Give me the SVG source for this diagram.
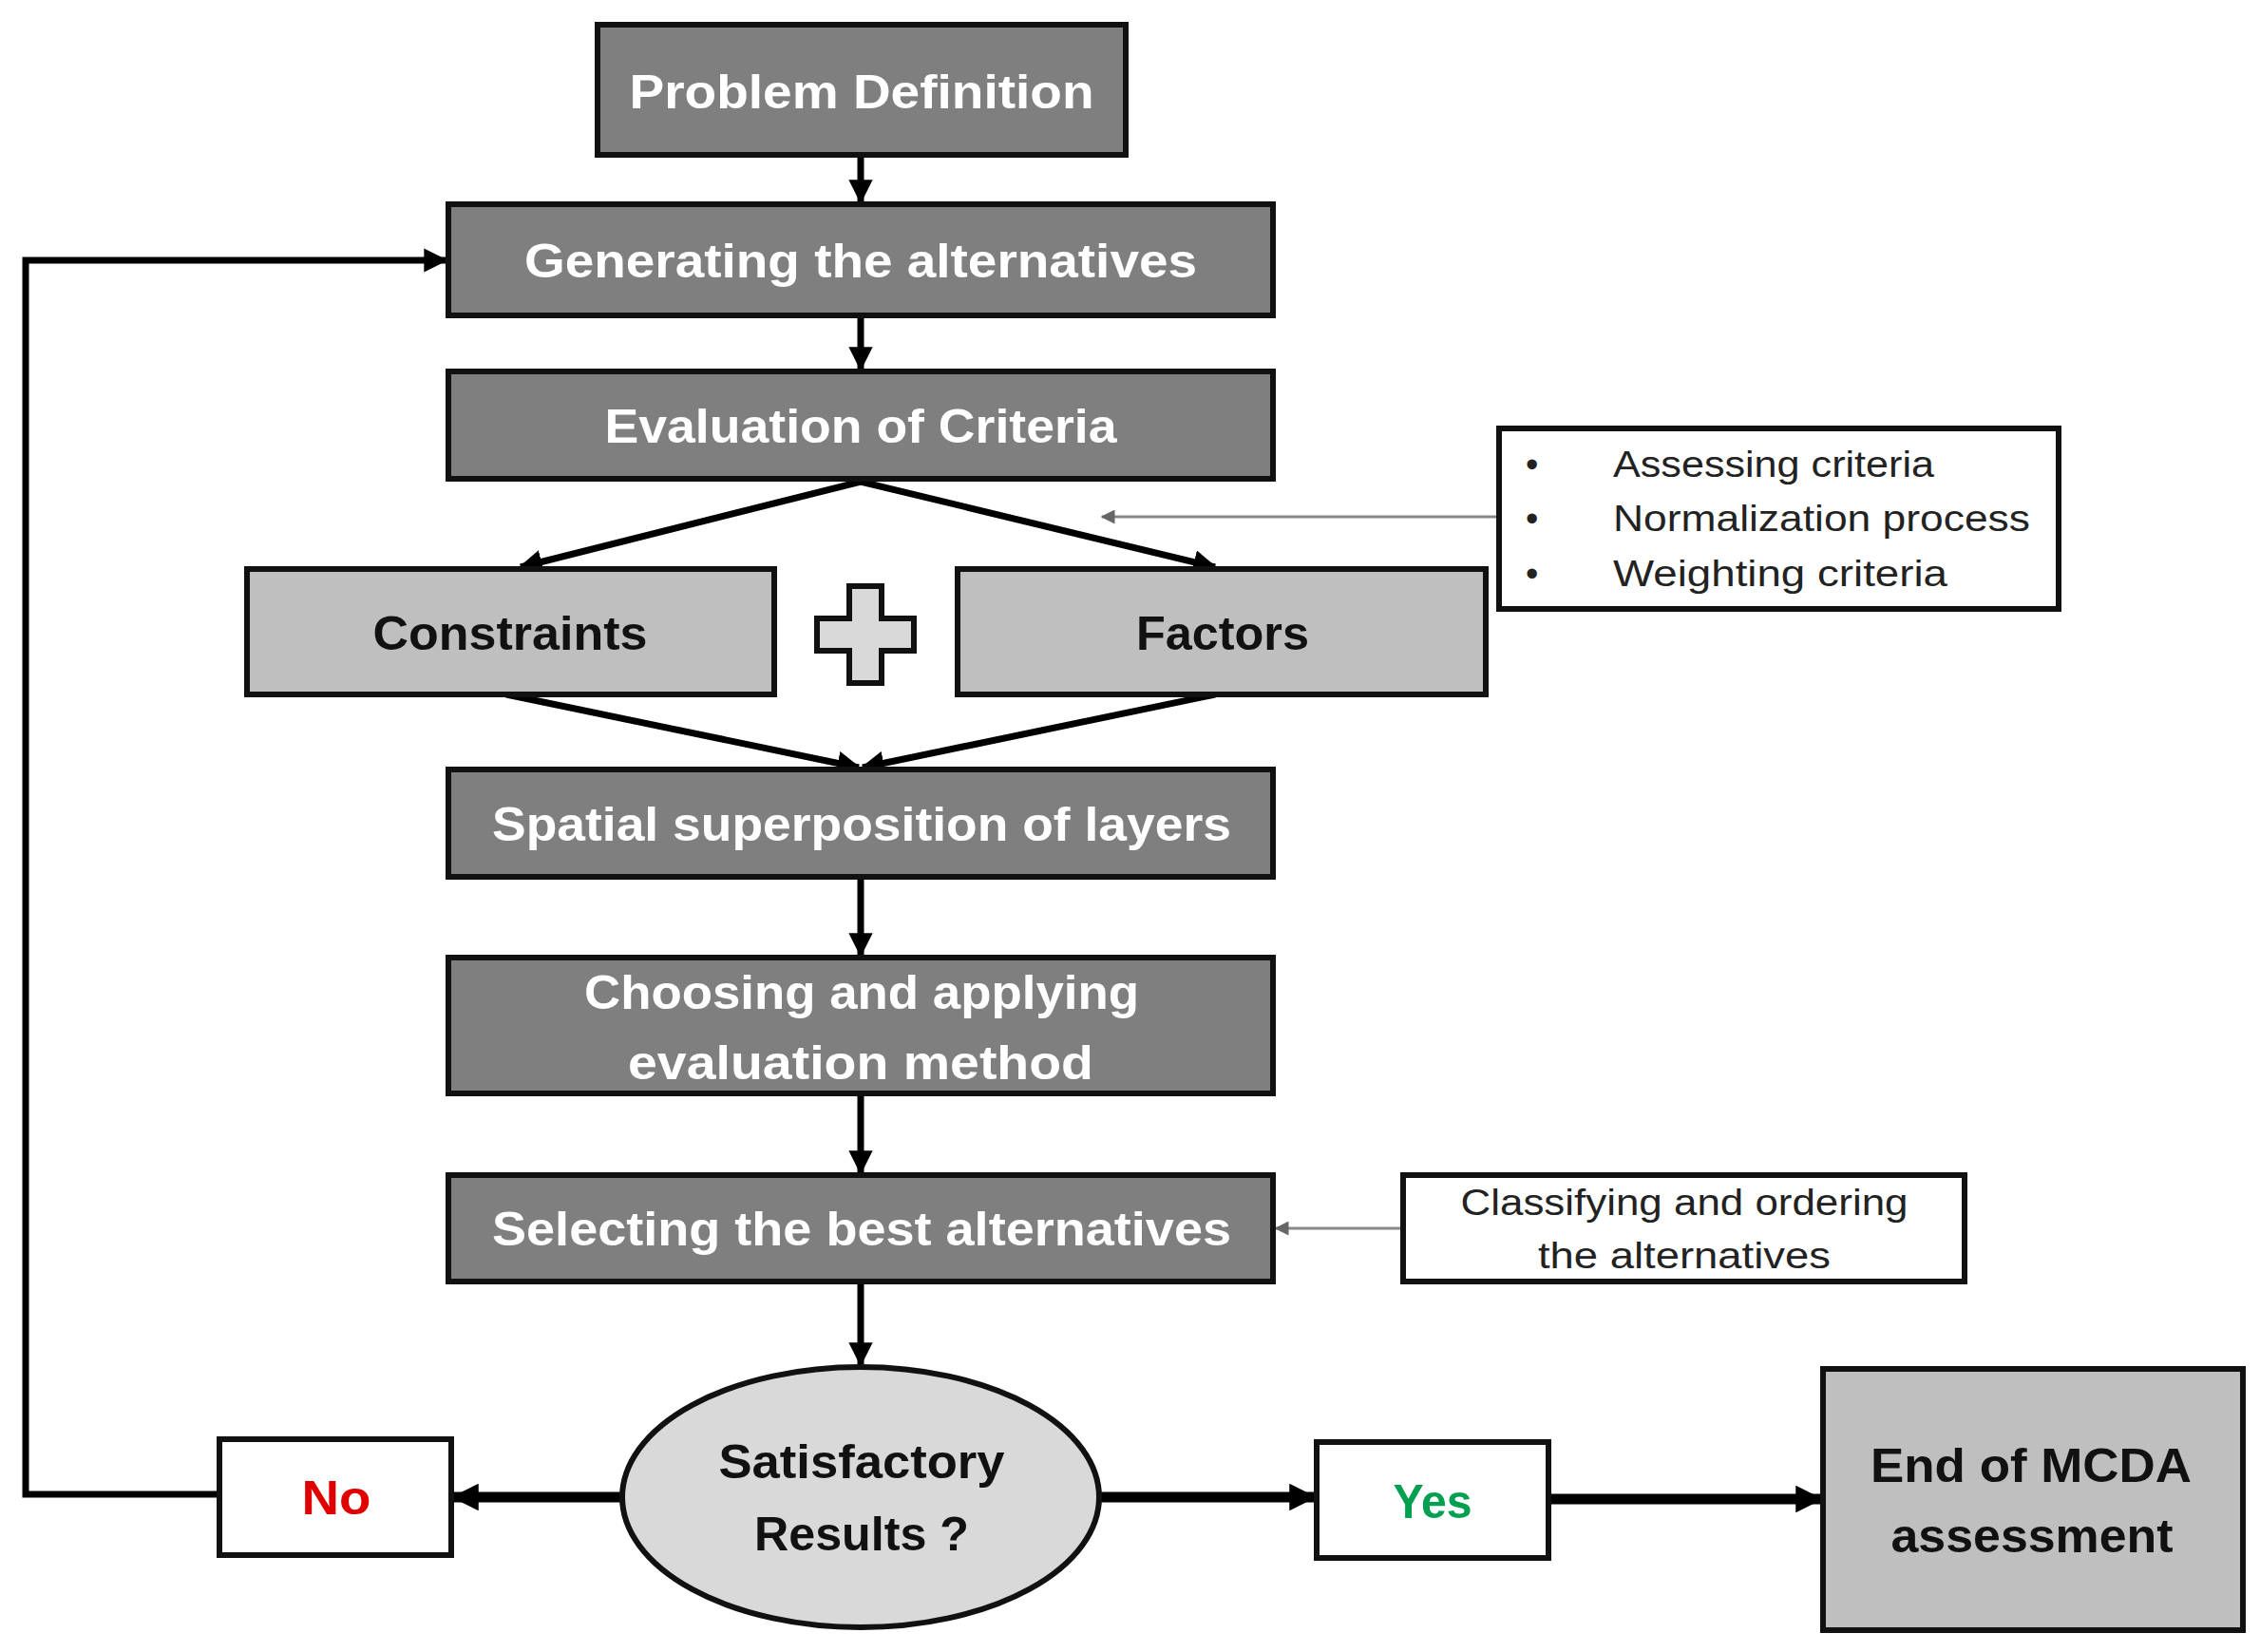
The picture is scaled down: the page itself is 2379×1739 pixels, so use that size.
<svg xmlns="http://www.w3.org/2000/svg" width="2379" height="1739" viewBox="0 0 2379 1739">
<style>
.dark{fill:#7f7f7f;stroke:#111;stroke-width:6}
.light{fill:#bfbfbf;stroke:#111;stroke-width:6}
.white{fill:#fff;stroke:#111;stroke-width:6}
.tw{font-family:"Liberation Sans",Arial,sans-serif;font-weight:bold;font-size:50px;fill:#fff;text-anchor:middle}
.tb{font-family:"Liberation Sans",Arial,sans-serif;font-weight:bold;font-size:50px;fill:#111;text-anchor:middle}
.tn{font-family:"Liberation Sans",Arial,sans-serif;font-size:38px;fill:#222}
.c{stroke:#000;stroke-width:7;fill:none}
.cb{stroke:#000;stroke-width:11;fill:none}
.g{stroke:#888;stroke-width:3;fill:none}
</style>
<defs>
<marker id="ah" viewBox="0 0 10 10" refX="9" refY="5" markerWidth="3.6" markerHeight="3.6" orient="auto" markerUnits="strokeWidth"><path d="M0,0L10,5L0,10z" fill="#000"/></marker>
<marker id="ab" viewBox="0 0 10 10" refX="9" refY="5" markerWidth="2.6" markerHeight="2.6" orient="auto" markerUnits="strokeWidth"><path d="M0,0L10,5L0,10z" fill="#000"/></marker>
<marker id="ag" viewBox="0 0 10 10" refX="9" refY="5" markerWidth="5" markerHeight="5" orient="auto" markerUnits="strokeWidth"><path d="M0,0L10,5L0,10z" fill="#666"/></marker>
</defs>
<rect width="2379" height="1739" fill="#fff"/>
<g id="connectors">
<line class="c" x1="906" y1="163" x2="906" y2="212" marker-end="url(#ah)"/>
<line class="c" x1="906" y1="332" x2="906" y2="388" marker-end="url(#ah)"/>
<line class="c" x1="906" y1="507" x2="548" y2="597" marker-end="url(#ah)"/>
<line class="c" x1="906" y1="507" x2="1279" y2="597" marker-end="url(#ah)"/>
<line class="c" x1="533" y1="731" x2="904" y2="808" marker-end="url(#ah)"/>
<line class="c" x1="1279" y1="731" x2="908" y2="808" marker-end="url(#ah)"/>
<line class="c" x1="906" y1="923" x2="906" y2="1005" marker-end="url(#ah)"/>
<line class="c" x1="906" y1="1151" x2="906" y2="1234" marker-end="url(#ah)"/>
<line class="c" x1="906" y1="1349" x2="906" y2="1436" marker-end="url(#ah)"/>
<line class="cb" x1="655" y1="1576" x2="478" y2="1576" marker-end="url(#ab)"/>
<line class="cb" x1="1157" y1="1576" x2="1383" y2="1576" marker-end="url(#ab)"/>
<line class="cb" x1="1630" y1="1578" x2="1916" y2="1578" marker-end="url(#ab)"/>
<polyline class="c" points="231,1573 27,1573 27,274 469,274" marker-end="url(#ah)"/>
<line class="g" x1="1578" y1="544" x2="1160" y2="544" marker-end="url(#ag)"/>
<line class="g" x1="1477" y1="1293" x2="1343" y2="1293" marker-end="url(#ag)"/>
</g>
<g id="problem"><rect class="dark" x="629" y="26" width="556" height="137"/><text class="tw" x="907" y="114" textLength="489" lengthAdjust="spacingAndGlyphs">Problem Definition</text></g>
<g id="generating"><rect class="dark" x="472" y="215" width="868" height="117"/><text class="tw" x="906" y="292" textLength="708" lengthAdjust="spacingAndGlyphs">Generating the alternatives</text></g>
<g id="evaluation"><rect class="dark" x="472" y="391" width="868" height="113"/><text class="tw" x="906" y="466" textLength="539" lengthAdjust="spacingAndGlyphs">Evaluation of Criteria</text></g>
<g id="constraints"><rect class="light" x="260" y="599" width="555" height="132"/><text class="tb" x="537" y="684" textLength="289" lengthAdjust="spacingAndGlyphs">Constraints</text></g>
<g id="plus"><path d="M894,617h34v34h34v34h-34v34h-34v-34h-34v-34h34z" fill="#d9d9d9" stroke="#111" stroke-width="6"/></g>
<g id="factors"><rect class="light" x="1008" y="599" width="556" height="132"/><text class="tb" x="1287" y="684" textLength="182" lengthAdjust="spacingAndGlyphs">Factors</text></g>
<g id="criteria-notes"><rect class="white" x="1578" y="451" width="589" height="190"/>
<text class="tn" x="1606" y="502">•</text><text class="tn" x="1698" y="502" textLength="338" lengthAdjust="spacingAndGlyphs">Assessing criteria</text>
<text class="tn" x="1606" y="559">•</text><text class="tn" x="1698" y="559" textLength="439" lengthAdjust="spacingAndGlyphs">Normalization process</text>
<text class="tn" x="1606" y="617">•</text><text class="tn" x="1698" y="617" textLength="352" lengthAdjust="spacingAndGlyphs">Weighting criteria</text></g>
<g id="spatial"><rect class="dark" x="472" y="810" width="868" height="113"/><text class="tw" x="907" y="885" textLength="778" lengthAdjust="spacingAndGlyphs">Spatial superposition of layers</text></g>
<g id="choosing"><rect class="dark" x="472" y="1008" width="868" height="143"/><text class="tw" x="907" y="1062" textLength="584" lengthAdjust="spacingAndGlyphs">Choosing and applying</text><text class="tw" x="906" y="1136" textLength="490" lengthAdjust="spacingAndGlyphs">evaluation method</text></g>
<g id="selecting"><rect class="dark" x="472" y="1237" width="868" height="112"/><text class="tw" x="907" y="1311" textLength="778" lengthAdjust="spacingAndGlyphs">Selecting the best alternatives</text></g>
<g id="classifying"><rect class="white" x="1477" y="1237" width="591" height="112"/><text class="tn" x="1773" y="1279" text-anchor="middle" textLength="471" lengthAdjust="spacingAndGlyphs">Classifying and ordering</text><text class="tn" x="1773" y="1335" text-anchor="middle" textLength="308" lengthAdjust="spacingAndGlyphs">the alternatives</text></g>
<g id="satisfactory"><ellipse cx="906" cy="1576" rx="251" ry="137" fill="#d9d9d9" stroke="#111" stroke-width="6"/><text class="tb" x="907" y="1556" textLength="301" lengthAdjust="spacingAndGlyphs">Satisfactory</text><text class="tb" x="907" y="1632" textLength="226" lengthAdjust="spacingAndGlyphs">Results ?</text></g>
<g id="no"><rect class="white" x="231" y="1515" width="244" height="122"/><text class="tb" x="354" y="1594" style="fill:#e00000" textLength="73" lengthAdjust="spacingAndGlyphs">No</text></g>
<g id="yes"><rect class="white" x="1386" y="1518" width="244" height="122"/><text class="tb" x="1508" y="1598" style="fill:#00a050" textLength="83" lengthAdjust="spacingAndGlyphs">Yes</text></g>
<g id="end"><rect class="light" x="1919" y="1441" width="442" height="275"/><text class="tb" x="2138" y="1560" textLength="338" lengthAdjust="spacingAndGlyphs">End of MCDA</text><text class="tb" x="2139" y="1634" textLength="297" lengthAdjust="spacingAndGlyphs">assessment</text></g>
</svg>
